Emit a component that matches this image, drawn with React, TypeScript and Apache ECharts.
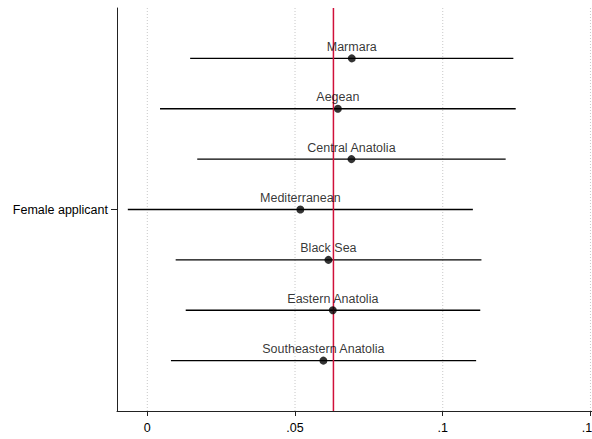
import React, { useEffect, useRef } from "react";
import * as echarts from "echarts";

const regions = [
  "Marmara",
  "Aegean",
  "Central Anatolia",
  "Mediterranean",
  "Black Sea",
  "Eastern Anatolia",
  "Southeastern Anatolia",
];
const estimates = [0.0692, 0.0645, 0.0691, 0.0518, 0.0613, 0.0628, 0.0596];
const lowerCI = [0.0145, 0.0043, 0.0169, -0.0066, 0.0096, 0.013, 0.008];
const upperCI = [0.1239, 0.1247, 0.1213, 0.1102, 0.1131, 0.1127, 0.1113];
const referenceValue = 0.063;
const xTickValues = [0, 0.05, 0.1, 0.15];
const xTickLabels = ["0", ".05", ".1", ".15"];
const yAxisLabel = "Female applicant";

const FONT = "'Liberation Sans', Arial, sans-serif";
const Y_MAX = regions.length + 1;

export default function App() {
  const ref = useRef<HTMLDivElement>(null);
  useEffect(() => {
    if (!ref.current) return;
    const chart = echarts.init(ref.current, null, { renderer: "svg" });
    const ciData = regions.map((_, i) => [lowerCI[i], upperCI[i], i + 1]);
    const ptData = regions.map((name, i) => ({ value: [estimates[i], i + 1], name }));
    const vline = (color: string, width: number, dash: any) => (_p: any, api: any) => {
      const a = api.coord([api.value(0), 0]);
      const b = api.coord([api.value(0), Y_MAX]);
      return {
        type: "line",
        shape: { x1: a[0], y1: a[1], x2: b[0], y2: b[1] },
        style: { stroke: color, lineWidth: width, lineDash: dash },
      };
    };
    chart.setOption({
      animation: false,
      backgroundColor: "#ffffff",
      textStyle: { fontFamily: FONT },
      grid: {
        left: 117,
        width: 477,
        top: 8,
        bottom: 28,
        containLabel: false,
        outerBoundsMode: "none",
      },
      xAxis: {
        type: "value",
        position: "bottom",
        min: -0.01026,
        max: 0.1512,
        axisLine: { show: true, onZero: false, lineStyle: { color: "#222", width: 1 } },
        axisTick: { show: true, length: 5, customValues: xTickValues, lineStyle: { color: "#222" } },
        axisLabel: {
          customValues: xTickValues,
          margin: 10,
          fontSize: 12.5,
          color: "#000",
          fontFamily: FONT,
          hideOverlap: false,
          formatter: (v: number) => {
            const idx = xTickValues.findIndex((t) => Math.abs(t - v) < 1e-9);
            return idx >= 0 ? xTickLabels[idx] : "";
          },
        },
        splitLine: { show: false },
      },
      yAxis: {
        type: "value",
        position: "left",
        min: 0,
        max: Y_MAX,
        inverse: true,
        axisLine: { show: true, onZero: false, lineStyle: { color: "#222", width: 1 } },
        axisTick: { show: true, length: 6, customValues: [Y_MAX / 2], lineStyle: { color: "#222" } },
        axisLabel: {
          customValues: [Y_MAX / 2],
          margin: 9,
          fontSize: 12.5,
          color: "#000",
          fontFamily: FONT,
          formatter: () => yAxisLabel,
        },
        splitLine: { show: false },
      },
      series: [
        {
          type: "custom",
          z: 0,
          silent: true,
          data: xTickValues.map((v) => [v]),
          renderItem: vline("#c8c8c8", 1, [1, 2]),
        },
        {
          type: "custom",
          z: 1,
          silent: true,
          data: ciData,
          renderItem: (_params: any, api: any) => {
            const p1 = api.coord([api.value(0), api.value(2)]);
            const p2 = api.coord([api.value(1), api.value(2)]);
            return {
              type: "line",
              shape: { x1: p1[0], y1: p1[1], x2: p2[0], y2: p2[1] },
              style: { stroke: "#000", lineWidth: 1.4 },
            };
          },
        },
        {
          type: "custom",
          z: 2,
          silent: true,
          data: [[referenceValue]],
          renderItem: vline("#d0103a", 1.5, null),
        },
        {
          type: "scatter",
          z: 3,
          symbol: "circle",
          symbolSize: 8,
          itemStyle: { color: "#000" },
          data: ptData,
          label: {
            show: true,
            position: "top",
            distance: 1,
            fontSize: 12.5,
            color: "#000",
            fontFamily: FONT,
            formatter: (p: any) => p.name,
          },
        },
      ],
    });
    return () => chart.dispose();
  }, []);
  return (
    <div
      ref={ref}
      style={{ position: "absolute", left: 0, top: 0, width: 592, height: 439, background: "#fff" }}
    />
  );
}
